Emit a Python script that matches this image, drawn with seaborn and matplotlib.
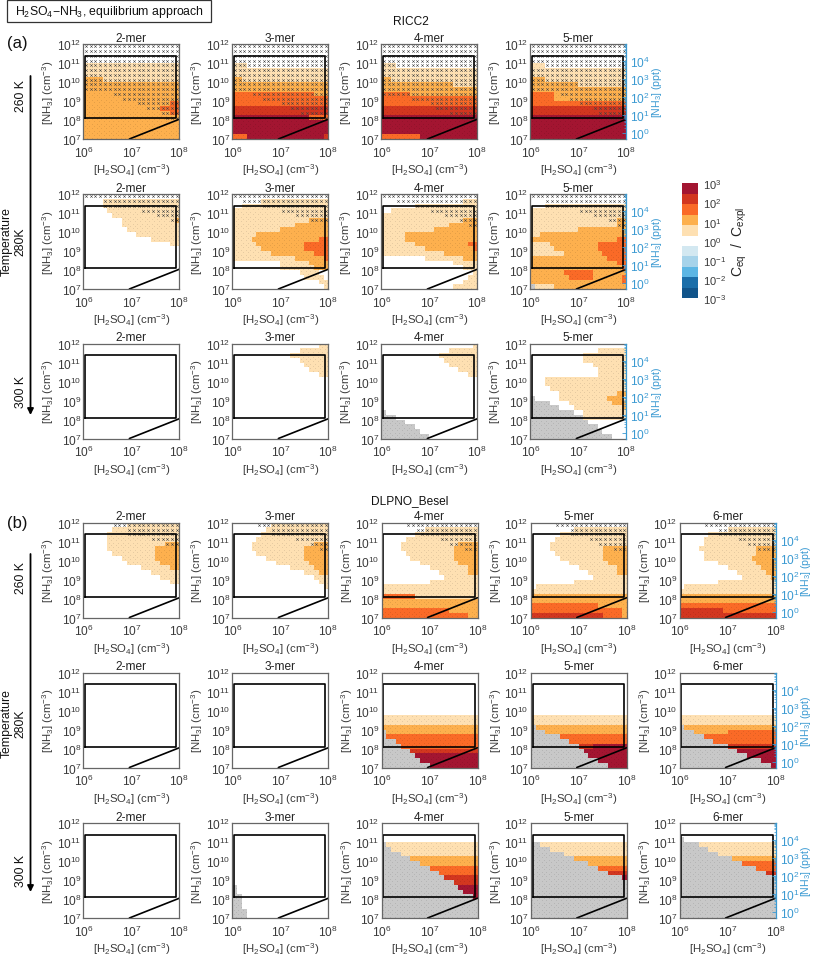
import re
import numpy as np
import pandas as pd
import matplotlib
matplotlib.use('Agg')
import matplotlib.pyplot as plt
import seaborn as sns
from matplotlib.colors import ListedColormap
from matplotlib.patches import Rectangle

sns.set_theme(style='ticks')
plt.rcParams['font.family'] = ['Liberation Sans', 'DejaVu Sans']
plt.rcParams['mathtext.default'] = 'regular'

W, H = 813, 962

# cell grids, top row = 10^12, run lengths: . white, a-e rising ratio, g grey; the rest of a row is white
a_260_2 = ['', '', '', '', '20a', '20a', '20a', '4b16a', '20b', '20b', '20b', '20b', '18b2c', '16b4c', '18b2c', '20b', '20b', '20b', '20b', '20b']
a_260_3 = ['', '', '', '', '3a', '20a', '20a', '2b18a', '20b', '20b', '17c3b', '20c', '20c', '20d', '20d', '16e4c', '20e', '20e', '20e', '3c16e1d']
a_260_4 = ['', '', '', '', '3a', '20a', '20a', '2b18a', '15b5a', '20b', '6c14b', '20c', '20c', '20d', '20d', '20e', '20e', '20e', '20e', '8c12e']
a_260_5 = ['', '', '', '', '3a', '20a', '20a', '3b17a', '10b10a', '20b', '5c15b', '5c15b', '20c', '20d', '20d', '20e', '20e', '20e', '20e', '20e']
a_280_2 = ['', '4.16a', '4.16a', '5.15a', '6.14a', '8.11a1b', '8.12a', '9.11a', '11.9a', '14.6a', '18.2a']
a_280_3 = ['', '6.14a', '2.18a', '20a', '20a', '16a4b', '13a7b', '10a10b', '5a15b', '4a14b2c', '5a10b5c', '6a9b5c', '8a9b3c', '13a6b1c', '10.6a4b', '10.7a3b', '14.4a', '15.4a', '18.2a', '19.1a']
a_280_4 = ['', '17.3a', '7.13a', '2.18a', '20a', '17a3b', '14a6b', '11a9b', '5a15b', '5a15b', '7a11b2c', '9a10b1c', '13a7b', '9.8a3b', '15.5a', '17.3a', '19.1a', '18.2a', '17.3a', '15.5a']
a_280_5 = ['', '', '3.17a', '20a', '20a', '18a2b', '18a2b', '10a10b', '2a18b', '18b2c', '4a10b6c', '5a9b6c', '7a8b5c', '16b4c', '18b2c', '19b1c', '7b6c7b', '8b5c6b1c', '19b1c', '1g4a15b']
a_300_2 = []
a_300_3 = ['18.2a', '14.6a', '12.8a', '14.6a', '15.5a', '16.4a', '18.2a']
a_300_4 = ['19.1a', '14.6a', '12.8a', '13.7a', '14.6a', '16.4a', '18.2a', '', '', '', '', '', '', '', '1g', '3g', '5g', '7g', '8g', '10g']
a_300_5 = ['', '14.6a', '11.9a', '11.9a', '13.7a', '14.6a', '14.6a', '3.17a', '3.17a', '4.16a', '6.12a2b', '1g5.10a3b1a', '4g4.9a3b', '6g3.10a1b', '9g2.9a', '11g9a', '12g', '14g', '15g', '17g']

b_260_2 = ['9.11a', '6.14a', '5.15a', '5.15a', '5.12a3b', '5.10a5b', '6.9a5b', '8.7a5b', '9.7a4b', '12.6a2b', '14.6a', '16.4a', '18.2a']
b_260_3 = ['8.12a', '7.13a', '6.14a', '5.15a', '4.13a3b', '4.11a5b', '5.10a5b', '7.8a5b', '9.7a4b', '12.5a3b', '15.3a2b', '17.3a', '18.2a', '19.1a']
b_260_4 = ['', '9.11a', '7.13a', '5.15a', '4.12a4b', '4.11a5b', '5.10a5b', '6.9a5b', '8.8a4b', '10.8a2b', '12.6a2b', '13.7a', '10.10a', '20a', '20a', '7c13a', '20b', '20b', '14c6b', '18c2b']
b_260_5 = ['', '9.11a', '6.14a', '5.15a', '4.16a', '4.11a5b', '5.10a5b', '6.9a5b', '8.8a4b', '10.8a2b', '12.6a2b', '13.7a', '9.11a', '1.19a', '20a', '20b', '20b', '14c6b', '19c1b', '15d4c1b']
b_260_6 = ['', '10.10a', '6.14a', '5.15a', '5.15a', '4.12a4b', '5.11a4b', '5.10a5b', '8.8a4b', '10.7a3b', '12.6a2b', '13.6a1b', '8.12a', '1.19a', '20a', '20b', '20b', '20c', '9d11c', '20d']
b_280_2 = []
b_280_3 = []
b_280_4 = ['', '', '', '', '', '', '', '', '', '20a', '20a', '20b', '1g19b', '1g19c', '3g17c', '4g16c', '6g14d', '7g13e', '8g12e', '10g10e']
b_280_5 = ['', '', '', '', '', '', '', '', '', '20a', '20a', '1g19b', '3g17b', '6g14c', '8g12c', '10g3d7e', '11g9e', '12g8e', '14g6e', '16g4e']
b_280_6 = ['', '', '', '', '', '', '', '', '', '20a', '20a', '1g19b', '3g7b10c', '5g15c', '7g13c', '10g10d', '12g8e', '14g6e', '17g3e', '19g1e']
b_300_2 = []
b_300_3 = ['', '', '', '', '', '', '', '', '', '', '', '', '', '1g', '1g', '2g', '2g', '2g', '3g', '3g']
b_300_4 = ['', '', '', '', '1g19a', '2g18a', '4g16a', '6g14b', '8g12b', '10g10c', '12g8c', '13g7d', '15g5d', '16g4e', '17g3e', '19g1e', '20g', '20g', '20g', '20g']
b_300_5 = ['', '', '', '', '2g18a', '4g16a', '7g13a', '9g11b', '12g8b', '14g6c', '16g4d', '19g1e', '20g', '20g', '20g', '20g', '20g', '20g', '20g', '20g']
b_300_6 = ['', '', '', '1g', '4g16a', '6g14a', '8g12a', '11g9b', '13g7c', '16g4c', '18g2d', '20g', '20g', '20g', '20g', '20g', '20g', '20g', '20g', '20g']

# first column with crosses in each row (crosses run on to the right edge)
x_a_260_2 = [0, 0, 0, 0, 0, 0, 0, 0, 0, 0, 6, 8, 11, 13, 16, 17]
x_a_260_3 = [0, 0, 0, 0, 0, 0, 0, 0, 0, 0, 4, 6, 10, 12, 14, 16]
x_a_260_4 = [0, 0, 0, 0, 0, 0, 0, 0, 0, 0, 0, 6, 10, 11, 14, 17]
x_a_260_5 = [0, 0, 0, 0, 3, 0, 0, 0, 0, 0, 6, 8, 10, 13, 14, 16]
x_a_280_2 = [0, 4, 4, 12, 15, 18]
x_a_280_3 = [0, 2, 6, 10, 13, 16]
x_a_280_4 = [0, 3, 7, 10, 13, 16, 18]
x_a_280_5 = [0, 3, 3, 10, 13, 16, 18]
x_b_260_2 = [6, 9, 9, 14, 17]
x_b_260_3 = [5, 8, 8, 13, 16, 18]
x_b_260_4 = [5, 7, 8, 12, 14, 17]
x_b_260_5 = [5, 8, 8, 12, 14, 17]
x_b_260_6 = [5, 8, 8, 12, 14, 16]

h2so4_log = np.linspace(6.05, 7.95, 20)
nh3_log = np.linspace(11.875, 7.125, 20)
x_tick_exp = [6, 7, 8]
y_tick_exp = [7, 8, 9, 10, 11, 12]
ppt_tick_exp = [0, 1, 2, 3, 4]
ppt_offset = 7.32
cbar_tick_exp = [3, 2, 1, 0, -1, -2, -3]

box_x = [6.04, 7.94]
box_y = [8.09, 11.39]
line_x = [6.96, 8.0]
line_y = [7.0, 8.04]

cell_codes = {'.': 0, 'a': 1, 'b': 2, 'c': 3, 'd': 4, 'e': 5, 'g': -1}
cell_colors = ['#c8c8c8', '#ffffff', '#fee0b2', '#fdb04e', '#fa6a27', '#d2361f', '#a31531']
bar_colors = ['#a31531', '#d2361f', '#fa6a27', '#fdb04e', '#fee0b2', '#ffffff',
              '#d3e8f1', '#a6d3ea', '#5cb6e4', '#1b6ea9', '#11548a']
dark = '#3a3a3a'
blue = '#3b9ad2'
ylab = r'[NH$_3$] (cm$^{-3}$)'
xlab = r'[H$_2$SO$_4$] (cm$^{-3}$)'


def to_col(v):
    return (np.asarray(v, dtype=float) - 6) * 10


def to_row(v):
    return (12 - np.asarray(v, dtype=float)) * 4


def decode(rows):
    grid = np.zeros((20, 20))
    for i, row in enumerate(rows):
        j = 0
        for n, c in re.findall(r'(\d+)([.a-eg])', row):
            grid[i, j:j + int(n)] = cell_codes[c]
            j += int(n)
    return pd.DataFrame(grid, index=nh3_log, columns=h2so4_log)


def px_axes(left, top, w, h):
    return fig.add_axes([left / W, 1 - (top + h) / H, w / W, h / H])


def draw_panel(left, top, rows, crosses, title, ylabels_right):
    ax = px_axes(left, top, 96, 95)
    df = decode(rows)
    sns.heatmap(df, ax=ax, cmap=ListedColormap(cell_colors), vmin=-1.5, vmax=5.5,
                cbar=False, xticklabels=False, yticklabels=False)
    # fine stipple on the coloured cells
    rr, cc = np.nonzero(df.values)
    ax.scatter(np.r_[cc + 0.25, cc + 0.75], np.r_[rr + 0.25, rr + 0.75], s=0.4,
               color='black', alpha=0.08, linewidths=0)
    for r, start in enumerate(crosses):
        cols = np.arange(start, 20) + 0.5
        ax.scatter(cols, np.full(len(cols), r + 0.5), marker='x', s=3.5, linewidths=0.35, color='#444444')
    ax.plot(to_col([box_x[0], box_x[1], box_x[1], box_x[0], box_x[0]]),
            to_row([box_y[0], box_y[0], box_y[1], box_y[1], box_y[0]]), color='black', lw=1.2)
    ax.plot(to_col(line_x), to_row(line_y), color='black', lw=1.2)
    ax.set_xlim(0, 20)
    ax.set_ylim(20, 0)
    ax.set_xticks(to_col(x_tick_exp))
    ax.set_xticklabels([f'$10^{{{e}}}$' for e in x_tick_exp])
    ax.set_yticks(to_row(y_tick_exp))
    ax.set_yticklabels([f'$10^{{{e}}}$' for e in y_tick_exp], rotation=0)
    minor = np.log10(np.arange(2, 10))
    ax.set_xticks(to_col(np.concatenate([d + minor for d in x_tick_exp[:-1]])), minor=True)
    ax.set_yticks(to_row(np.concatenate([d + minor for d in y_tick_exp[:-1]])), minor=True)
    ax.tick_params(which='major', direction='in', length=2.6, width=0.6, color=dark, top=True,
                   right=True, labelsize=8.6, labelcolor=dark)
    ax.tick_params(axis='x', which='major', pad=4)
    ax.tick_params(axis='y', which='major', pad=1.5)
    ax.tick_params(which='minor', direction='in', length=1.5, width=0.5, color='#666666', top=True,
                   right=True)
    for s in ax.spines.values():
        s.set_visible(True)
        s.set_color('#666666')
        s.set_linewidth(0.9)
    ax.set_xlabel(xlab, fontsize=8.2, color=dark)
    ax.xaxis.set_label_coords(0.5, -0.235)
    ax.set_ylabel(ylab, fontsize=8.2, color=dark)
    ax.yaxis.set_label_coords(-0.28, 0.5)
    ax.set_title(title, fontsize=8.6, color='#222222', pad=2.5)
    if ylabels_right:
        ax.tick_params(which='both', right=False)
        ax.spines['right'].set_visible(False)
        ax2 = ax.twinx()
        ax2.set_ylim(20, 0)
        ax2.grid(False)
        ax2.set_yticks(to_row(np.array(ppt_tick_exp) + ppt_offset))
        ax2.set_yticklabels([f'$10^{{{e}}}$' for e in ppt_tick_exp])
        ax2.set_yticks(to_row(np.concatenate([d + ppt_offset + minor for d in ppt_tick_exp])), minor=True)
        ax2.tick_params(which='major', direction='in', length=2.6, width=0.6, color=blue,
                        labelsize=8.6, labelcolor=blue, pad=3)
        ax2.tick_params(which='minor', direction='in', length=1.5, width=0.5, color=blue)
        for name, s in ax2.spines.items():
            s.set_visible(name == 'right')
        ax2.spines['right'].set_color(blue)
        ax2.spines['right'].set_linewidth(0.9)
        ax2.set_ylabel(r'[NH$_3$] (ppt)', fontsize=7.6, color=blue)
        ax2.yaxis.set_label_coords(1.245, 0.5)
    return ax


fig = plt.figure(figsize=(W / 100, H / 100), dpi=100)

lefts_a = [83.3, 232.3, 381.3, 530.3]
tops_a = [45, 195, 344.5]
lefts_b = [83.3, 232.3, 381.5, 530.7, 679.5]
tops_b = [523.5, 673.5, 824]

section_a = [
    [a_260_2, a_260_3, a_260_4, a_260_5],
    [a_280_2, a_280_3, a_280_4, a_280_5],
    [a_300_2, a_300_3, a_300_4, a_300_5],
]
crosses_a = [
    [x_a_260_2, x_a_260_3, x_a_260_4, x_a_260_5],
    [x_a_280_2, x_a_280_3, x_a_280_4, x_a_280_5],
    [[], [], [], []],
]
section_b = [
    [b_260_2, b_260_3, b_260_4, b_260_5, b_260_6],
    [b_280_2, b_280_3, b_280_4, b_280_5, b_280_6],
    [b_300_2, b_300_3, b_300_4, b_300_5, b_300_6],
]
crosses_b = [
    [x_b_260_2, x_b_260_3, x_b_260_4, x_b_260_5, x_b_260_6],
    [[], [], [], [], []],
    [[], [], [], [], []],
]
mers_a = ['2-mer', '3-mer', '4-mer', '5-mer']
mers_b = ['2-mer', '3-mer', '4-mer', '5-mer', '6-mer']

for i, top in enumerate(tops_a):
    for j, left in enumerate(lefts_a):
        draw_panel(left, top, section_a[i][j], crosses_a[i][j], mers_a[j], j == len(lefts_a) - 1)
for i, top in enumerate(tops_b):
    for j, left in enumerate(lefts_b):
        draw_panel(left, top, section_b[i][j], crosses_b[i][j], mers_b[j], j == len(lefts_b) - 1)

# colour bar
cax = px_axes(682.3, 184.3, 15.4, 115)
levels = np.arange(5, -6, -1).reshape(-1, 1)
sns.heatmap(pd.DataFrame(levels), ax=cax, cmap=ListedColormap(bar_colors[::-1]), vmin=-5.5, vmax=5.5,
            cbar=False, xticklabels=False, yticklabels=False)
cax.set_yticks(np.linspace(0, 11, len(cbar_tick_exp)))
cax.set_yticklabels([f'$10^{{{e}}}$' for e in cbar_tick_exp], rotation=0)
cax.yaxis.tick_right()
cax.tick_params(axis='y', length=0, labelsize=8.0, labelcolor=dark, pad=3.5)
for s in cax.spines.values():
    s.set_visible(False)


def ftext(x, y, s, **kw):
    return fig.text(x / W, 1 - y / H, s, ha='center', va='center', **kw)


ftext(739, 242, r'C$_{eq}$  /  C$_{expl}$', fontsize=10, rotation=90, color='#222222')

fig.add_artist(Rectangle((7 / W, 1 - 22.5 / H), 204 / W, 21.5 / H, transform=fig.transFigure,
                         facecolor='white', edgecolor='#333333', linewidth=0.9))
ftext(109, 12, r'H$_2$SO$_4$$-$NH$_3$, equilibrium approach', fontsize=8.8, color='#111111')
ftext(411, 22, 'RICC2', fontsize=8.6, color='#111111')
ftext(410, 501.5, 'DLPNO_Besel', fontsize=8.6, color='#111111')
ftext(17, 43.5, '(a)', fontsize=12, color='#111111')
ftext(17, 523.5, '(b)', fontsize=12, color='#111111')

for y0, y1, t1, t2, t3 in [(77, 416, 96, 242, 392), (555, 893, 578, 724, 871)]:
    fig.add_artist(matplotlib.patches.FancyArrowPatch(
        (30.5 / W, 1 - y0 / H), (30.5 / W, 1 - y1 / H), transform=fig.transFigure,
        arrowstyle='-|>', mutation_scale=9, color='black', lw=1.3, shrinkA=0, shrinkB=0))
    ftext(20.5, t1, '260 K', fontsize=8.8, rotation=90, color='#111111')
    ftext(20.5, t2, '280K', fontsize=8.8, rotation=90, color='#111111')
    ftext(6.5, t2, 'Temperature', fontsize=8.8, rotation=90, color='#111111')
    ftext(20.5, t3, '300 K', fontsize=8.8, rotation=90, color='#111111')

fig.savefig('out.png', dpi=100)
